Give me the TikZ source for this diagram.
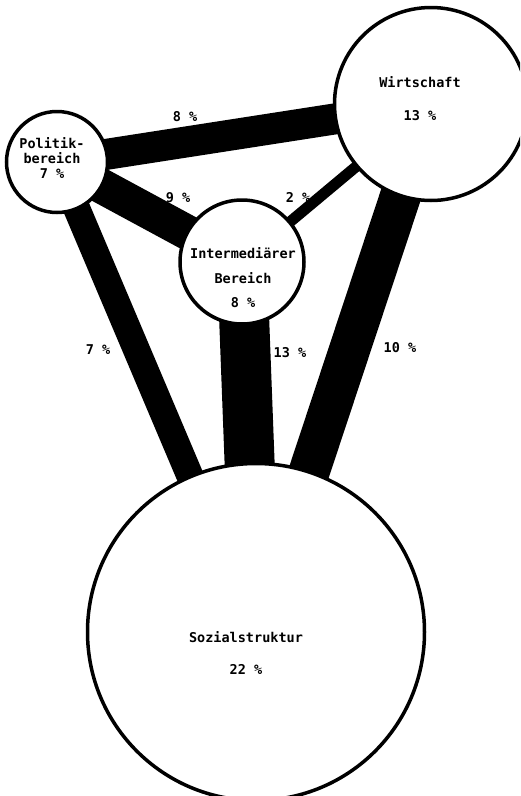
\documentclass[tikz,border=0pt]{standalone}
\usepackage{fontspec}
\setmonofont{DejaVu Sans Mono}
\usetikzlibrary{positioning,backgrounds}

\begin{document}
\begin{tikzpicture}[
    x=1pt, y=-1pt,
    circ/.style={draw, circle, line width=3.5pt, fill=white, inner sep=0pt, minimum size=#1},
    band/.style={line width=#1, black},
    lbl/.style={font=\ttfamily\bfseries\fontsize{13.5}{#1}\selectfont, align=center, inner sep=0pt},
    pct/.style={font=\ttfamily\bfseries\fontsize{13.5}{15}\selectfont, inner sep=0pt},
]
    \useasboundingbox (0,0) rectangle (520,796);
    \clip (0,0) rectangle (520,796);

    % === SECTORS ===
    \node[circ=101pt] (politik) at (57,162) {};
    \node[circ=193pt] (wirtschaft) at (431,104) {};
    \node[circ=124pt] (inter) at (242,262) {};
    \node[circ=337pt] (sozial) at (256,632) {};

    % === SECTOR TEXTS ===
    \node[lbl=15pt] (politiktext) at (52,158) {Politik-\\bereich\\7 \%};
    \node[lbl=33pt] (wirtschafttext) at (420,99) {Wirtschaft\\13 \%};
    \node[lbl=24.5pt] (intertext) at (243,278) {Intermediärer\\Bereich\\8 \%};
    \node[lbl=32pt] (sozialtext) at (246,653) {Sozialstruktur\\22 \%};

    % === BANDS (width by share) ===
    \begin{scope}[on background layer]
        \draw[band=31pt] (politik.center) -- (wirtschaft.center);
        \draw[band=35pt] (politik.center) -- (inter.center);
        \draw[band=11pt] (inter.center) -- (wirtschaft.center);
        \draw[band=27pt] (politik.center) -- (sozial.center);
        \draw[band=50pt] (inter.center) -- (sozial.center);
        \draw[band=41pt] (wirtschaft.center) -- (sozial.center);
    \end{scope}

    % === BAND LABELS ===
    \node[pct] (pw) at (185,117) {8 \%};
    \node[pct] (pi) at (178,198) {9 \%};
    \node[pct] (iw) at (298,197) {2 \%};
    \node[pct] (ps) at (98,350) {7 \%};
    \node[pct] (is) at (290,353) {13 \%};
    \node[pct] (ws) at (400,348) {10 \%};
\end{tikzpicture}
\end{document}
